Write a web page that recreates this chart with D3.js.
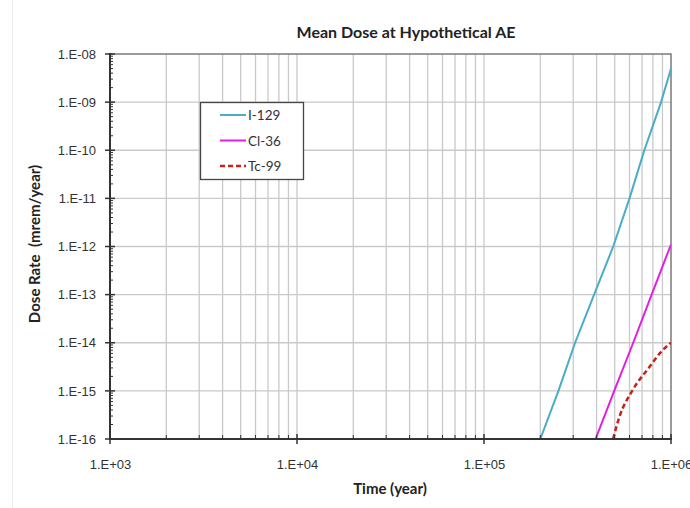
<!DOCTYPE html>
<html>
<head>
<meta charset="utf-8">
<script src="https://cdn.jsdelivr.net/npm/d3@7"></script>
<style>
  html, body { margin: 0; padding: 0; background: #fff; }
  svg { display: block; font-family: Lato, "Open Sans", sans-serif; }
</style>
</head>
<body>
<svg id="chart" width="690" height="508"></svg>
<script>
// Axis decades and their labels
const xTickValues = [1e3, 1e4, 1e5, 1e6];
const xTickLabels = ["1.E+03", "1.E+04", "1.E+05", "1.E+06"];
const yTickValues = [1e-16, 1e-15, 1e-14, 1e-13, 1e-12, 1e-11, 1e-10, 1e-9, 1e-8];
const yTickLabels = ["1.E-16", "1.E-15", "1.E-14", "1.E-13", "1.E-12", "1.E-11", "1.E-10", "1.E-09", "1.E-08"];

// Mean dose rate (mrem/year) vs time (year) for each radionuclide
const seriesNames = ["I-129", "Cl-36", "Tc-99"];
const i129Time = [2.0e5, 2.5e5, 3.07e5, 3.88e5, 4.91e5, 6.0e5, 7.2e5, 8.85e5, 1.0e6];
const i129Dose = [1e-16, 1e-15, 1e-14, 1e-13, 1e-12, 1e-11, 1e-10, 1e-9, 5e-9];
const cl36Time = [3.95e5, 4.97e5, 6.28e5, 7.88e5, 1.0e6];
const cl36Dose = [1e-16, 1e-15, 1e-14, 1e-13, 1.1e-12];
const tc99Time = [4.9e5, 5.3e5, 6.2e5, 7.7e5, 8.7e5, 1.0e6];
const tc99Dose = [1e-16, 2.9e-16, 1e-15, 3.2e-15, 6e-15, 1e-14];

const series = [
  { name: seriesNames[0], t: i129Time, d: i129Dose, color: "#4bacc6", width: 2, dash: null, curve: d3.curveLinear },
  { name: seriesNames[1], t: cl36Time, d: cl36Dose, color: "#e31ee3", width: 2, dash: null, curve: d3.curveLinear },
  { name: seriesNames[2], t: tc99Time, d: tc99Dose, color: "#c8201c", width: 2.5, dash: "5,3", curve: d3.curveMonotoneX }
];

const svg = d3.select("#chart");
const L = 110, R = 671, T = 54, B = 439;

const x = d3.scaleLog().domain([1e3, 1e6]).range([L, R]);
const y = d3.scaleLog().domain([1e-16, 1e-8]).range([B, T]);

// faint chart-area edge
svg.append("line").attr("x1", 12.5).attr("x2", 12.5).attr("y1", 0).attr("y2", 508)
  .attr("stroke", "#ececec").attr("stroke-width", 1);

// minor positions (2..9 per decade)
const xMinor = [];
for (let e = 3; e < 6; e++) for (let k = 2; k <= 9; k++) xMinor.push(k * Math.pow(10, e));
const yMinor = [];
for (let e = -16; e < -8; e++) for (let k = 2; k <= 9; k++) yMinor.push(k * Math.pow(10, e));

const grid = svg.append("g");
// vertical gridlines at every major and minor x position
grid.selectAll("line.vx").data(xMinor.concat(xTickValues.slice(1, 3))).enter().append("line")
  .attr("x1", d => x(d)).attr("x2", d => x(d)).attr("y1", T).attr("y2", B)
  .attr("stroke", "#c9c9c9").attr("stroke-width", 1.3);
// horizontal gridlines at decades
grid.selectAll("line.hy").data(yTickValues.slice(1, -1)).enter().append("line")
  .attr("x1", L).attr("x2", R).attr("y1", d => y(d)).attr("y2", d => y(d))
  .attr("stroke", "#c9c9c9").attr("stroke-width", 1.3);

// top and right frame of plot area
svg.append("path").attr("d", `M${L},${T}H${R}V${B}`).attr("fill", "none")
  .attr("stroke", "#7a7a7a").attr("stroke-width", 1.5);

// data lines
svg.append("clipPath").attr("id", "plotClip").append("rect")
  .attr("x", L).attr("y", T).attr("width", R - L).attr("height", B - T);
const lines = svg.append("g").attr("clip-path", "url(#plotClip)");
series.forEach(s => {
  const pts = s.t.map((t, i) => [t, s.d[i]]);
  const line = d3.line().x(p => x(p[0])).y(p => y(p[1])).curve(s.curve);
  lines.append("path").attr("d", line(pts)).attr("fill", "none")
    .attr("stroke", s.color).attr("stroke-width", s.width)
    .attr("stroke-dasharray", s.dash);
});

// x axis
const xAxis = svg.append("g").attr("transform", `translate(0,${B})`)
  .call(d3.axisBottom(x).tickValues(xTickValues).tickFormat((d, i) => xTickLabels[i])
    .tickSize(0).tickPadding(21));
xAxis.select(".domain").remove();
xAxis.selectAll("text").attr("font-size", 13).attr("fill", "#333");
svg.append("line").attr("x1", L - 1).attr("x2", R + 1).attr("y1", B).attr("y2", B)
  .attr("stroke", "#333").attr("stroke-width", 2);
svg.selectAll("line.xmaj").data(xTickValues).enter().append("line")
  .attr("x1", d => x(d)).attr("x2", d => x(d)).attr("y1", B - 5).attr("y2", B + 5)
  .attr("stroke", "#333").attr("stroke-width", 1.5);
svg.selectAll("line.xmin").data(xMinor).enter().append("line")
  .attr("x1", d => x(d)).attr("x2", d => x(d)).attr("y1", B - 4).attr("y2", B)
  .attr("stroke", "#333").attr("stroke-width", 1);

// y axis
const yAxis = svg.append("g").attr("transform", `translate(${L},0)`)
  .call(d3.axisLeft(y).tickValues(yTickValues).tickFormat((d, i) => yTickLabels[i])
    .tickSize(0).tickPadding(14));
yAxis.select(".domain").remove();
yAxis.selectAll("text").attr("font-size", 13).attr("fill", "#333");
svg.append("line").attr("x1", L).attr("x2", L).attr("y1", T - 1).attr("y2", B + 1)
  .attr("stroke", "#333").attr("stroke-width", 2);
svg.selectAll("line.ymaj").data(yTickValues).enter().append("line")
  .attr("x1", L - 5).attr("x2", L + 5).attr("y1", d => y(d)).attr("y2", d => y(d))
  .attr("stroke", "#333").attr("stroke-width", 1.5);
svg.selectAll("line.ymin").data(yMinor).enter().append("line")
  .attr("x1", L).attr("x2", L + 3).attr("y1", d => y(d)).attr("y2", d => y(d))
  .attr("stroke", "#333").attr("stroke-width", 1);

// titles
svg.append("text").attr("x", 406).attr("y", 38).attr("text-anchor", "middle")
  .attr("font-size", 16).attr("font-weight", "bold").attr("fill", "#222")
  .text("Mean Dose at Hypothetical AE");
svg.append("text").attr("x", 390).attr("y", 494).attr("text-anchor", "middle")
  .attr("font-size", 15).attr("font-weight", "bold").attr("fill", "#222")
  .text("Time (year)");
svg.append("text").attr("transform", "translate(40,244) rotate(-90)").attr("text-anchor", "middle")
  .attr("font-size", 15).attr("font-weight", "bold").attr("fill", "#222")
  .attr("xml:space", "preserve")
  .text("Dose Rate  (mrem/year)");

// legend
const lg = svg.append("g").attr("transform", "translate(200,102)");
lg.append("rect").attr("x", 0.5).attr("y", 0.5).attr("width", 103).attr("height", 77)
  .attr("fill", "#fff").attr("stroke", "#444").attr("stroke-width", 1.3);
series.forEach((s, i) => {
  const yy = 13 + i * 25.5;
  lg.append("line").attr("x1", 20).attr("x2", 46).attr("y1", yy).attr("y2", yy)
    .attr("stroke", s.color).attr("stroke-width", s.width).attr("stroke-dasharray", s.dash);
  lg.append("text").attr("x", 48).attr("y", yy + 5).attr("font-size", 13.5).attr("fill", "#333")
    .text(s.name);
});
</script>
</body>
</html>
